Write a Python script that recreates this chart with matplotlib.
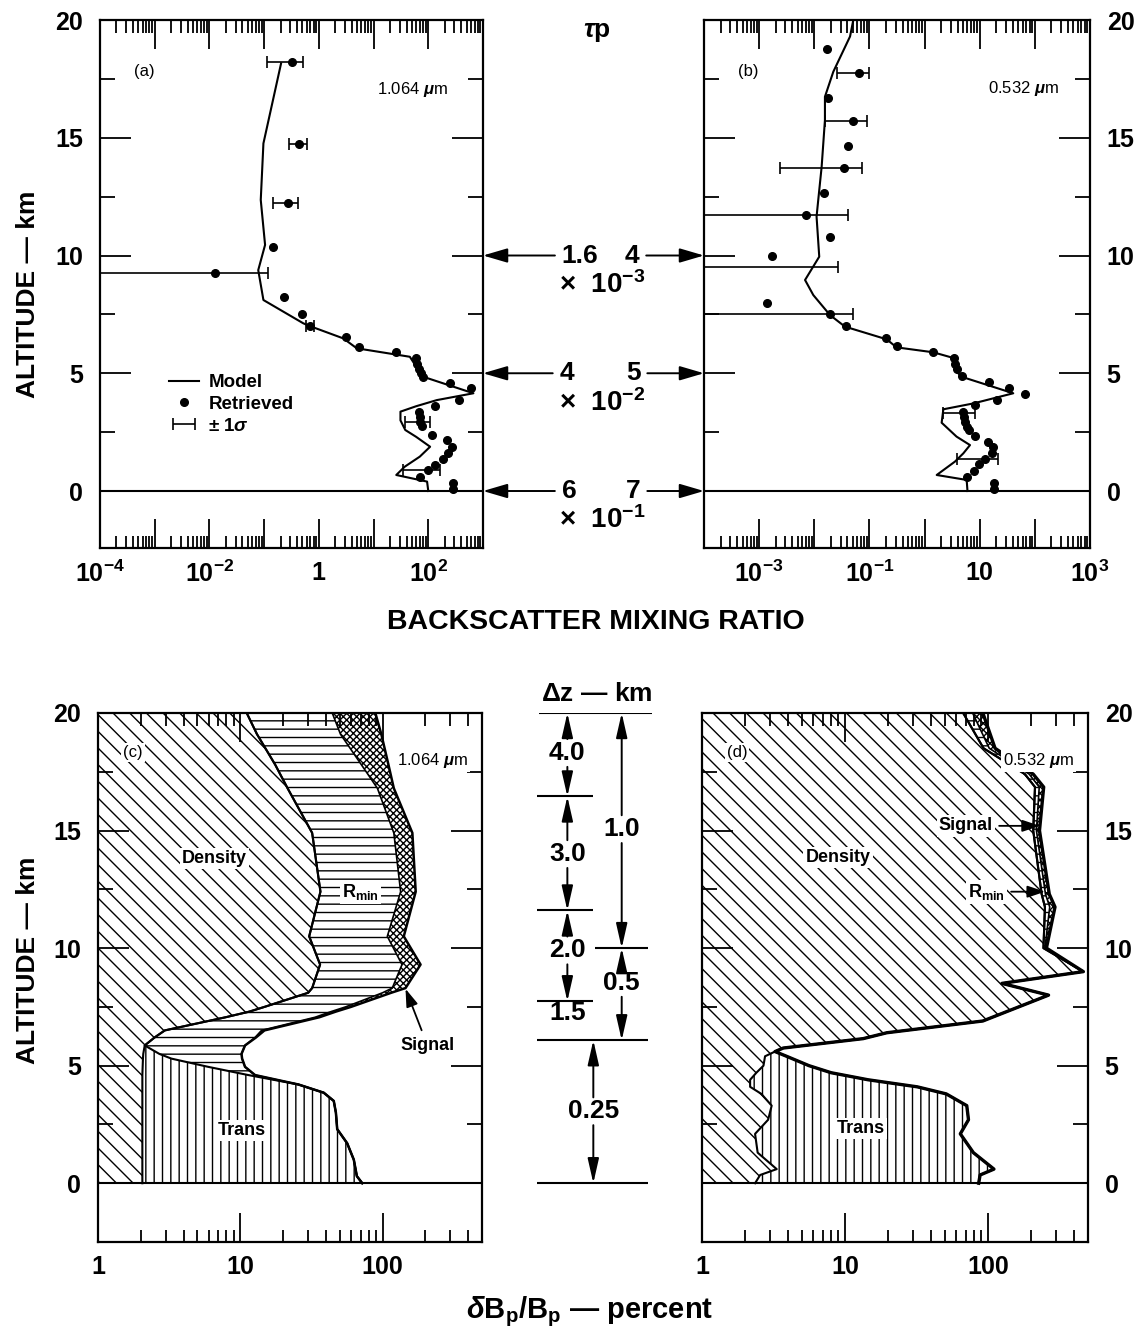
import matplotlib.pyplot as plt
import matplotlib.ticker as mticker
from matplotlib.container import ErrorbarContainer
from matplotlib.legend_handler import HandlerErrorbar
import numpy as np

plt.rcParams['font.family'] = ['Liberation Sans', 'DejaVu Sans']
plt.rcParams['font.weight'] = 'bold'
plt.rcParams['mathtext.fontset'] = 'custom'
plt.rcParams['mathtext.rm'] = 'Liberation Sans'
plt.rcParams['mathtext.it'] = 'Liberation Sans:italic'
plt.rcParams['mathtext.bf'] = 'Liberation Sans:bold'
plt.rcParams['mathtext.default'] = 'bf'
plt.rcParams['hatch.linewidth'] = 1.0
plt.rcParams['axes.linewidth'] = 1.6

# ---------------- panel (a): 1.064 um backscatter mixing ratio ----------------
a_model_z = [0.0, 0.4, 0.68, 1.03, 1.46, 1.88, 2.3, 2.59, 3.0, 3.37, 3.6, 3.86, 4.15, 4.85,
             5.14, 5.7, 6.06, 6.48, 7.0, 7.12, 8.11, 9.38, 10.45, 12.36, 14.76, 18.16]
a_model_v = [100, 95, 26, 37, 70, 108, 60, 38, 31, 31, 60, 143, 668, 81,
             66, 46, 4.93, 2.8, 0.69, 0.52, 0.097, 0.078, 0.104, 0.0867, 0.097, 0.204]
a_pts_z = [18.23, 14.72, 12.24, 10.37, 9.24, 8.25, 7.52, 7.0, 6.52, 6.1, 5.9, 5.63, 5.39, 5.17,
           5.0, 4.83, 4.6, 4.36, 3.86, 3.62, 3.37, 3.16, 2.95, 2.74, 2.38, 2.17, 1.88, 1.6,
           1.35, 1.1, 0.89, 0.61, 0.35, 0.08]
a_pts_v = [0.319, 0.44, 0.27, 0.147, 0.0126, 0.231, 0.5, 0.69, 3.2, 5.5, 26, 60, 63, 67,
           74, 81, 250, 603, 366, 133, 69, 72, 70, 78, 119, 217, 270, 233,
           184, 133, 100, 71, 288, 288]
a_err_z = [18.23, 14.72, 12.24, 9.24, 7.0, 2.95, 0.89]
a_err_c = [0.319, 0.44, 0.27, 0.0126, 0.69, 70, 100]
a_err_lo = [0.111, 0.29, 0.145, 1e-5, 0.58, 38, 35]
a_err_hi = [0.52, 0.61, 0.42, 0.116, 0.83, 108, 164]

# ---------------- panel (b): 0.532 um ----------------
b_model_z = [0.0, 0.47, 0.68, 1.25, 1.6, 1.95, 2.31, 2.9, 3.47, 3.72, 4.15, 4.85, 5.07, 5.63,
             5.89, 6.1, 6.44, 6.98, 7.47, 8.32, 8.96, 9.95, 11.65, 12.36, 13.77, 15.75,
             16.74, 17.8, 19.3, 20.0]
b_model_v = [6.0, 5.8, 1.66, 3.56, 5.05, 6.67, 3.8, 2.04, 2.19, 7.7, 40.6, 4.7, 3.8, 3.56,
             1.44, 0.31, 0.206, 0.036, 0.0193, 0.0096, 0.0068, 0.0123, 0.011, 0.0118, 0.0136,
             0.0156, 0.0156, 0.0221, 0.0445, 0.051]
b_pts_z = [18.75, 17.73, 16.67, 15.71, 14.65, 13.7, 12.67, 11.72, 10.77, 9.98, 7.97, 7.5, 7.0,
           6.48, 6.16, 5.89, 5.63, 5.39, 5.17, 4.88, 4.64, 4.36, 4.12, 3.86, 3.65, 3.37, 3.16,
           2.94, 2.73, 2.59, 2.33, 2.1, 1.88, 1.6, 1.35, 1.15, 0.85, 0.61, 0.35, 0.08]
b_pts_v = [0.0173, 0.0648, 0.0178, 0.051, 0.0404, 0.035, 0.015, 0.0071, 0.0193, 0.00169,
           0.0014, 0.0193, 0.0376, 0.2, 0.32, 1.44, 3.46, 3.6, 3.8, 4.7, 14.8, 34.4, 66, 20.3,
           8.2, 5.05, 5.2, 5.4, 5.8, 6.3, 8.2, 14.3, 17.6, 16.5, 12.5, 9.8, 7.9, 6.0, 18.4, 18.4]
b_err_z = [17.73, 15.71, 13.7, 11.72, 9.53, 7.5, 3.3, 1.35]
b_err_c = [0.0648, 0.051, 0.035, 0.0071, 3e-5, 0.0193, 5.05, 12.5]
b_err_lo = [0.0256, 0.0156, 0.0024, 5e-5, 1e-5, 5e-5, 2.19, 3.8]
b_err_hi = [0.0994, 0.0891, 0.0723, 0.0404, 0.0273, 0.051, 8.2, 21.7]

# optical depth labels between (a) and (b)
tau_z = [10, 5, 0]
tau_a = ['1.6', '4', '6']
tau_b = ['4', '5', '7']
tau_exp = [r'×  10$^{-3}$', r'×  10$^{-2}$', r'×  10$^{-1}$']

# ---------------- panel (c): error budget 1.064 um (percent) ----------------
z_c = [0.0, 0.3, 1.0, 1.7, 2.3, 3.0, 3.5, 3.85, 4.2, 4.6, 4.95, 5.3, 5.5, 5.86, 6.2, 6.5,
       7.06, 7.3, 7.5, 8.1, 8.3, 9.3, 10.5, 12.4, 14.9, 16.8, 17.8, 19.1, 20.0]
dens_c = [2.05, 2.05, 2.05, 2.05, 2.05, 2.05, 2.05, 2.05, 2.05, 2.05, 2.06, 2.07, 2.08, 2.13,
          2.5, 2.95, 7.9, 11.6, 14.8, 30, 32, 36.4, 30.5, 36.6, 32, 21.5, 17.6, 13.1, 11.1]
trans_c = [72, 66, 62.8, 56.4, 48, 47, 45.4, 38.6, 25.6, 11.4, 5.95, 3.28, 2.7, 2.13,
           2.5, 2.95, 7.9, 11.6, 14.8, 30, 32, 36.4, 30.5, 36.6, 32, 21.5, 17.6, 13.1, 11.1]
rmin_c = [72, 66, 62.8, 56.4, 48, 47, 45.4, 38.6, 25.6, 12.7, 10.8, 10.3, 10.2, 10.8,
          12.7, 14.1, 33.6, 43.5, 55, 100, 117, 137, 108, 134, 120, 92, 71, 50.6, 44.3]
sig_c = [72, 66, 62.8, 56.4, 48, 47, 45.4, 38.6, 25.6, 12.7, 10.8, 10.3, 10.2, 10.8,
         12.9, 14.8, 36, 47, 60, 115, 145, 185, 141, 171, 162, 120, 110, 98, 89]

# ---------------- panel (d): error budget 0.532 um ----------------
z_d = [0.0, 0.35, 0.6, 1.3, 2.1, 2.7, 3.3, 3.8, 4.1, 4.4, 4.7, 5.0, 5.4, 5.6, 5.75, 6.15,
       6.4, 6.9, 8.0, 8.5, 9.0, 10.0, 11.75, 12.3, 15.0, 16.85, 17.4, 18.5, 20.0]
dens_d = [2.35, 2.55, 3.33, 2.45, 2.35, 2.9, 3.07, 2.6, 2.17, 2.17, 2.4, 2.69, 2.76, 3.24,
          3.7, 13.4, 19.6, 92, 265, 125, 464, 244, 250, 237, 207, 213, 181, 93, 67]
trans_d = [86, 88, 110, 79, 64, 73, 71, 51, 32, 14.5, 8.0, 5.6, 3.9, 3.24,
           3.7, 13.4, 19.6, 92, 265, 125, 464, 244, 250, 237, 207, 213, 181, 93, 67]
rmin_d = [86, 88, 110, 79, 64, 73, 71, 51, 32, 14.5, 8.0, 5.6, 3.9, 3.24,
          3.7, 13.4, 19.6, 92, 265, 125, 464, 250, 270, 252, 218, 228, 194, 102, 78]
sig_d = [86, 88, 110, 79, 64, 73, 71, 51, 32, 14.5, 8.0, 5.6, 3.9, 3.24,
         3.7, 13.4, 19.6, 92, 265, 125, 464, 256, 294, 268, 229, 245, 207, 112, 92]

# vertical resolution (delta z) scheme
dz_left_levels = [20, 16.45, 11.6, 7.74, 6.08]
dz_left_labels = ['4.0', '3.0', '2.0', '1.5']
dz_left_textz = [18.3, 14.0, 9.9, 7.25]
dz_right_levels = [20, 10.0, 6.08]
dz_right_labels = ['1.0', '0.5']
dz_right_textz = [15.06, 8.52]
dz_low_levels = [6.08, 0]
dz_low_labels = ['0.25']
dz_low_textz = [3.06]

W, H = 1139, 1337
fig = plt.figure(figsize=(W / 100, H / 100), dpi=100)


def box(l, t, r, b):
    return [l / W, 1 - b / H, (r - l) / W, (b - t) / H]


def style(ax, ylo, xlo, xhi, right=False):
    ax.set_xscale('log')
    ax.set_xlim(xlo, xhi)
    ax.set_ylim(ylo, 20)
    ax.yaxis.set_major_locator(mticker.MultipleLocator(5))
    ax.yaxis.set_minor_locator(mticker.MultipleLocator(2.5))
    ax.yaxis.set_major_formatter(mticker.FormatStrFormatter('%d'))
    ax.xaxis.set_minor_locator(mticker.LogLocator(base=10, subs=np.arange(2, 10), numticks=40))
    ax.xaxis.set_minor_formatter(mticker.NullFormatter())
    ax.tick_params(which='both', direction='in', top=True, bottom=True, left=True, right=True,
                   width=1.3, labelsize=18)
    ax.tick_params(axis='x', which='major', length=21, pad=9)
    ax.tick_params(axis='x', which='minor', length=9)
    ax.tick_params(axis='y', which='major', length=22, pad=12)
    ax.tick_params(axis='y', which='minor', length=11)
    ax.tick_params(axis='y', labelleft=not right, labelright=right)
    ax.set_axisbelow(False)


ax_a = fig.add_axes(box(100, 20, 483, 548))
ax_b = fig.add_axes(box(704, 20, 1090, 548))
ax_c = fig.add_axes(box(98, 713, 482, 1242))
ax_d = fig.add_axes(box(702, 713, 1088, 1242))

decades = [1e-4, 1e-3, 1e-2, 1e-1, 1, 10, 100, 1000]
for ax, labs in [(ax_a, [r'10$^{-4}$', '', r'10$^{-2}$', '', '1', '', r'10$^{2}$', '']),
                 (ax_b, ['', r'10$^{-3}$', '', r'10$^{-1}$', '', '10', '', r'10$^{3}$'])]:
    style(ax, -2.42, 1e-4, 1e3, right=(ax is ax_b))
    ax.xaxis.set_major_locator(mticker.FixedLocator(decades))
    ax.xaxis.set_major_formatter(mticker.FixedFormatter(labs))
    ax.axhline(0, color='black', lw=1.5)

for ax in (ax_c, ax_d):
    style(ax, -2.5, 1, 500, right=(ax is ax_d))
    ax.xaxis.set_major_locator(mticker.FixedLocator([1, 10, 100]))
    ax.xaxis.set_major_formatter(mticker.FixedFormatter(['1', '10', '100']))
    ax.axhline(0, color='black', lw=1.5)
    ax.set_zorder(3)

# (a)
model_a, = ax_a.plot(a_model_v, a_model_z, color='black', lw=1.5)
eb_a = ax_a.errorbar(a_err_c, a_err_z,
                     xerr=[np.subtract(a_err_c, a_err_lo), np.subtract(a_err_hi, a_err_c)],
                     fmt='none', ecolor='black', elinewidth=1.2, capsize=4, capthick=1.2)
pts_a, = ax_a.plot(a_pts_v, a_pts_z, 'o', color='black', ms=5.5)
ax_a.text(0.117, 0.902, '(a)', transform=ax_a.transAxes, fontsize=12, fontweight='normal',
          ha='center', va='center')
ax_a.text(0.817, 0.869, r'1.064 $\mathit{\mu}$m', transform=ax_a.transAxes, fontsize=12,
          fontweight='normal', ha='center', va='center')
ax_a.legend([model_a, pts_a, eb_a], ['Model', 'Retrieved', r'± 1$\mathit{\sigma}$'],
            loc='center left', bbox_to_anchor=(0.18, 0.272), frameon=False, fontsize=13.5,
            borderpad=0, borderaxespad=0, handletextpad=0.5, labelspacing=0.25,
            handlelength=1.6, numpoints=1,
            handler_map={ErrorbarContainer: HandlerErrorbar(xerr_size=0.6)})

# (b)
ax_b.plot(b_model_v, b_model_z, color='black', lw=1.5)
ax_b.errorbar(b_err_c, b_err_z,
              xerr=[np.subtract(b_err_c, b_err_lo), np.subtract(b_err_hi, b_err_c)],
              fmt='none', ecolor='black', elinewidth=1.2, capsize=4, capthick=1.2)
ax_b.plot(b_pts_v, b_pts_z, 'o', color='black', ms=5.5)
ax_b.text(0.114, 0.902, '(b)', transform=ax_b.transAxes, fontsize=12, fontweight='normal',
          ha='center', va='center')
ax_b.text(0.827, 0.87, r'0.532 $\mathit{\mu}$m', transform=ax_b.transAxes, fontsize=12,
          fontweight='normal', ha='center', va='center')

# (c) and (d) stacked error contributions
def budget(ax, z, dens, trans, rmin, sig, outer_lw):
    kw = dict(facecolor='white', edgecolor='black', linewidth=0)
    ax.fill_betweenx(z, 1, dens, hatch='\\\\', **kw)
    ax.fill_betweenx(z, dens, trans, hatch='||', **kw)
    ax.fill_betweenx(z, trans, rmin, hatch='--', **kw)
    ax.fill_betweenx(z, rmin, sig, hatch='xxxxx', **kw)
    ax.plot(dens, z, color='black', lw=1.5)
    ax.plot(trans, z, color='black', lw=1.5)
    ax.plot(rmin, z, color='black', lw=1.2)
    ax.plot(sig, z, color='black', lw=outer_lw)


budget(ax_c, z_c, dens_c, trans_c, rmin_c, sig_c, 1.8)
budget(ax_d, z_d, dens_d, trans_d, rmin_d, sig_d, 2.4)

wbox = dict(facecolor='white', edgecolor='none', pad=1.5)
ax_c.text(1.76, 18.3, '(c)', fontsize=12, fontweight='normal', ha='center', va='center', bbox=wbox)
ax_c.text(225, 17.96, r'1.064 $\mathit{\mu}$m', fontsize=12, fontweight='normal',
          ha='center', va='center', bbox=wbox)
ax_c.text(6.56, 13.8, 'Density', fontsize=13, ha='center', va='center', bbox=wbox)
ax_c.text(70, 12.4, r'R$_{min}$', fontsize=13, ha='center', va='center', bbox=wbox)
ax_c.text(10.3, 2.25, 'Trans', fontsize=13, ha='center', va='center', bbox=wbox)
small_arrow = dict(arrowstyle='-|>,head_length=0.6,head_width=0.2', color='black', lw=1.3,
                   shrinkA=3, shrinkB=0, mutation_scale=18)
ax_c.annotate('Signal', xy=(145, 8.27), xytext=(207, 5.86), fontsize=13, ha='center',
              va='center', arrowprops=dict(small_arrow))

ax_d.text(1.76, 18.3, '(d)', fontsize=12, fontweight='normal', ha='center', va='center', bbox=wbox)
ax_d.text(227, 17.96, r'0.532 $\mathit{\mu}$m', fontsize=12, fontweight='normal',
          ha='center', va='center', bbox=wbox)
ax_d.text(8.93, 13.85, 'Density', fontsize=13, ha='center', va='center', bbox=wbox)
ax_d.text(12.9, 2.33, 'Trans', fontsize=13, ha='center', va='center', bbox=wbox)
ax_d.annotate('Signal', xy=(231, 15.2), xytext=(108, 15.2), fontsize=13, ha='right',
              va='center', bbox=wbox, arrowprops=dict(small_arrow))
ax_d.annotate(r'R$_{min}$', xy=(251, 12.4), xytext=(131, 12.4), fontsize=13, ha='right',
              va='center', bbox=wbox, arrowprops=dict(small_arrow))

# middle: optical depth arrows
ax_m = fig.add_axes(box(483, 20, 704, 548))
ax_m.set_xlim(0, 1)
ax_m.set_ylim(-2.42, 20)
ax_m.axis('off')
big_arrow = dict(arrowstyle='-|>,head_length=0.75,head_width=0.22', color='black', lw=1.4,
                 shrinkA=3, shrinkB=0, mutation_scale=20)
left_x = [0.44, 0.38, 0.39]
right_x = [0.674, 0.679, 0.679]
for z, ta, tb, ex, lx, rx in zip(tau_z, tau_a, tau_b, tau_exp, left_x, right_x):
    ax_m.annotate(ta, xy=(0, z), xytext=(lx, z), fontsize=19, ha='center', va='center',
                  arrowprops=dict(big_arrow), annotation_clip=False)
    ax_m.annotate(tb, xy=(1, z), xytext=(rx, z), fontsize=19, ha='center', va='center',
                  arrowprops=dict(big_arrow), annotation_clip=False)
    ax_m.text(0.54, z - 1.25, ex, fontsize=20, ha='center', va='center')
ax_m.text(0.516, 19.5, r'$\mathit{\tau}$p', fontsize=19, ha='center', va='center')

# middle: delta z scheme
ax_z = fig.add_axes(box(482, 713, 702, 1242))
ax_z.set_xlim(0, 1)
ax_z.set_ylim(-2.5, 20)
ax_z.axis('off')
ax_z.hlines([20], 0.26, 0.772, color='black', lw=1.5)
ax_z.hlines(dz_left_levels[1:-1], 0.25, 0.505, color='black', lw=1.5)
ax_z.hlines([10.0], 0.514, 0.756, color='black', lw=1.5)
ax_z.hlines([6.08, 0], 0.25, 0.756, color='black', lw=1.5)
ax_z.text(0.521, 20.8, r'$\Delta$z — km', fontsize=19, ha='center', va='center')
v_arrow = dict(arrowstyle='-|>,head_length=0.75,head_width=0.17', color='black', lw=1.4,
               shrinkA=10, shrinkB=0, mutation_scale=20)


def dz_column(x, levels, labels, textz, skip=()):
    for i, (lab, tz) in enumerate(zip(labels, textz)):
        ax_z.text(x, tz, lab, fontsize=19, ha='center', va='center')
        if lab in skip:
            continue
        ax_z.annotate('', xy=(x, levels[i]), xytext=(x, tz), arrowprops=dict(v_arrow))
        ax_z.annotate('', xy=(x, levels[i + 1]), xytext=(x, tz), arrowprops=dict(v_arrow))


dz_column(0.388, dz_left_levels, dz_left_labels, dz_left_textz, skip=('1.5',))
dz_column(0.635, dz_right_levels, dz_right_labels, dz_right_textz)
dz_column(0.506, dz_low_levels, dz_low_labels, dz_low_textz)

# axis titles
fig.text(0.0246, 0.780, 'ALTITUDE — km', rotation=90, fontsize=19, ha='center', va='center')
fig.text(0.0246, 0.282, 'ALTITUDE — km', rotation=90, fontsize=19, ha='center', va='center')
fig.text(0.523, 0.535, 'BACKSCATTER MIXING RATIO', fontsize=20.5, ha='center', va='center')
fig.text(0.518, 0.0187, r'$\mathit{\delta}$B$_{p}$/B$_{p}$ — percent', fontsize=21,
         ha='center', va='center')

# make sure the inward x ticks of the lower panels are drawn on both edges
for ax in (ax_c, ax_d):
    ax.tick_params(axis='x', which='both', bottom=True, top=True, direction='in')

fig.savefig('out.png', dpi=100)
